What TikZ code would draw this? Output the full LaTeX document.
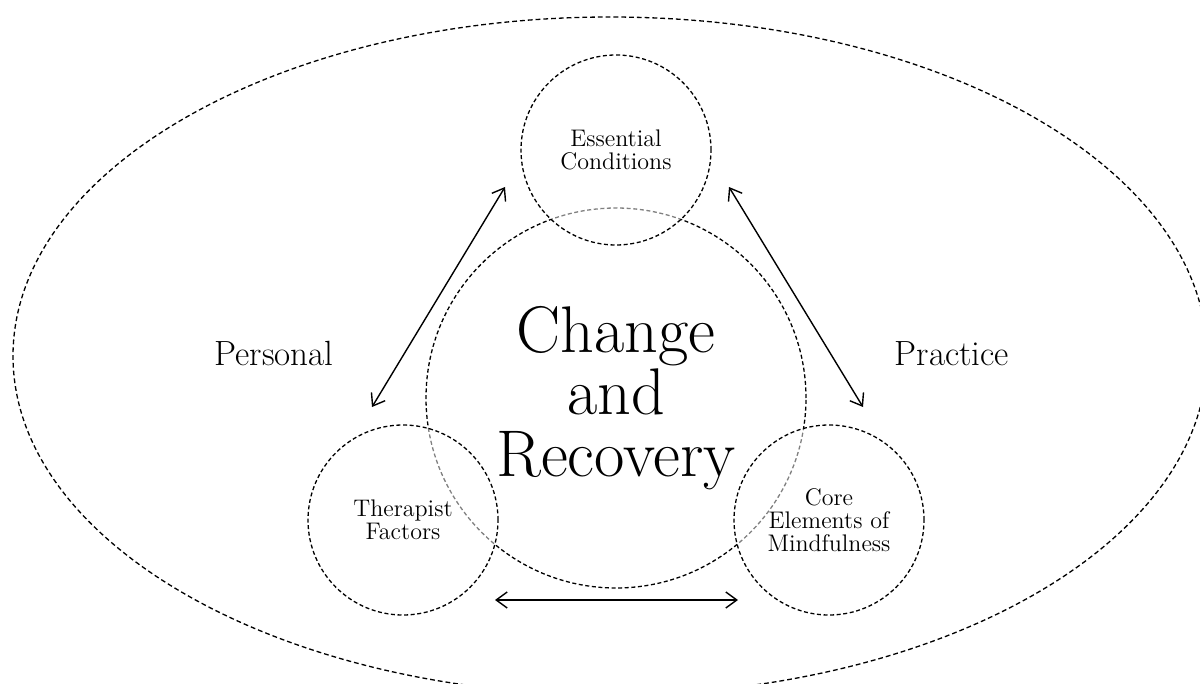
\documentclass[tikz,border=0pt]{standalone}
\usetikzlibrary{arrows.meta}

\tikzset{
	ring/.style={circle, draw, dash pattern=on 2pt off 1.3pt, line width=0.65pt, inner sep=0pt},
	smallring/.style={ring, minimum size=95pt, fill=white, fill opacity=0.5, text opacity=1, align=center, font=\fontsize{12}{11.5}\selectfont},
	link/.style={<->, >={Straight Barb[length=5.5pt,width=8pt]}, line width=0.7pt},
	side/.style={anchor=base, font=\fontsize{17.5}{20}\selectfont}
}

\begin{document}
\begin{tikzpicture}[x=0.5pt, y=-0.5pt]
				\useasboundingbox (0,0) rectangle (1200,684);
				\clip (0,0) rectangle (1200,684);
				
				% outer frame
				\draw[dash pattern=on 2.4pt off 1.5pt, line width=0.65pt] (610,356) ellipse [x radius=298.5pt, y radius=169.5pt];
				
				\node[ring, minimum size=190pt] (core) at (616,398) {};
				
				\node[smallring] (ess) at (616,150) {Essential\\Conditions};
				\node[smallring] (ther) at (403,520) {Therapist\\Factors};
				\node[smallring] (mind) at (829,520) {Core\\Elements of\\Mindfulness};
				
				\node[align=center, font=\fontsize{33}{31}\selectfont] (rec) at (core) {Change\\and\\Recovery};
				
				\node[side] (pers) at (274,365) {Personal};
				\node[side] (prac) at (952,365) {Practice};
				
				\coordinate (l1) at (372,407);
				\coordinate (l2) at (505,187);
				\coordinate (r1) at (729,187);
				\coordinate (r2) at (863,407);
				\coordinate (b1) at (495,600);
				\coordinate (b2) at (738,600);
				
				\draw[link] (l1) -- (l2);
				\draw[link] (r1) -- (r2);
				\draw[link] (b1) -- (b2);
\end{tikzpicture}
\end{document}
